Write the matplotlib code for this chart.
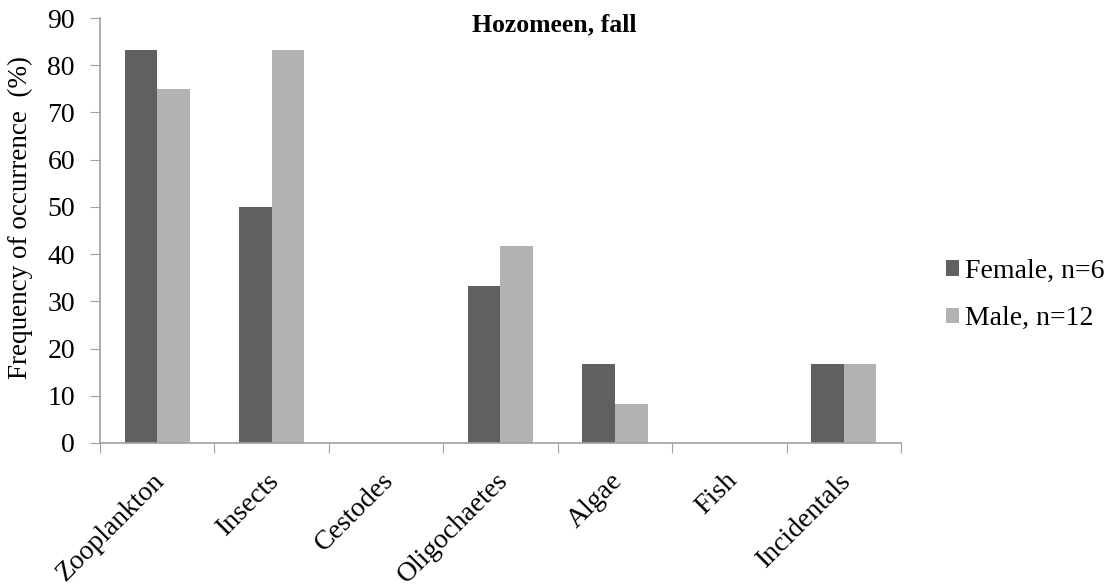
import numpy as np
import matplotlib.pyplot as plt
from matplotlib.transforms import ScaledTranslation

categories = ["Zooplankton", "Insects", "Cestodes", "Oligochaetes", "Algae", "Fish", "Incidentals"]
female = [83.3, 50.0, 0, 33.3, 16.7, 0, 16.7]
male = [75.0, 83.3, 0, 41.7, 8.3, 0, 16.7]

plt.rcParams["font.family"] = ["Liberation Serif", "DejaVu Serif"]

fig = plt.figure(figsize=(11.2, 5.88), dpi=100)
ax = fig.add_axes([100 / 1120, 145 / 588, 801 / 1120, 425 / 588])

x = np.arange(len(categories))
w = 0.285
ax.bar(x - w / 2, female, w, color="#606060", label="Female, n=6")
ax.bar(x + w / 2, male, w, color="#b2b2b2", label="Male, n=12")

ax.set_xlim(-0.5, len(categories) - 0.5)
ax.set_ylim(0, 90)
ax.set_yticks(range(0, 91, 10))
ax.tick_params(axis="y", labelsize=20, length=7, color="#a0a0a0", pad=11)

# category ticks sit between groups
ax.set_xticks(np.arange(-0.5, len(categories), 1.0))
ax.set_xticklabels([])
ax.tick_params(axis="x", length=7, color="#a0a0a0")
ax.set_xticks(x, minor=True)
ax.set_xticklabels(categories, minor=True, rotation=45, ha="right",
                   rotation_mode="anchor", fontsize=20)
ax.tick_params(axis="x", which="minor", length=0, pad=18)
shift = ScaledTranslation(-0.05, 0, fig.dpi_scale_trans)
for lab in ax.get_xticklabels(minor=True):
    lab.set_transform(lab.get_transform() + shift)

for s in ["top", "right"]:
    ax.spines[s].set_visible(False)
for s in ["left", "bottom"]:
    ax.spines[s].set_color("#a0a0a0")
    ax.spines[s].set_linewidth(1.2)

ax.set_ylabel("Frequency of occurrence  (%)", fontsize=19.5)
ax.yaxis.set_label_coords(-0.084, 0.53)
fig.text(554 / 1120, 1 - 25 / 588, "Hozomeen, fall", ha="center", va="center",
         fontsize=18.5, fontweight="bold")

fig.legend(loc="center left", bbox_to_anchor=(946 / 1120, 1 - 295 / 588),
           frameon=False, fontsize=20, handlelength=0.47, handleheight=0.47,
           handletextpad=0.22, labelspacing=0.8, borderpad=0,
           borderaxespad=0)

fig.savefig("out.png", dpi=100)
